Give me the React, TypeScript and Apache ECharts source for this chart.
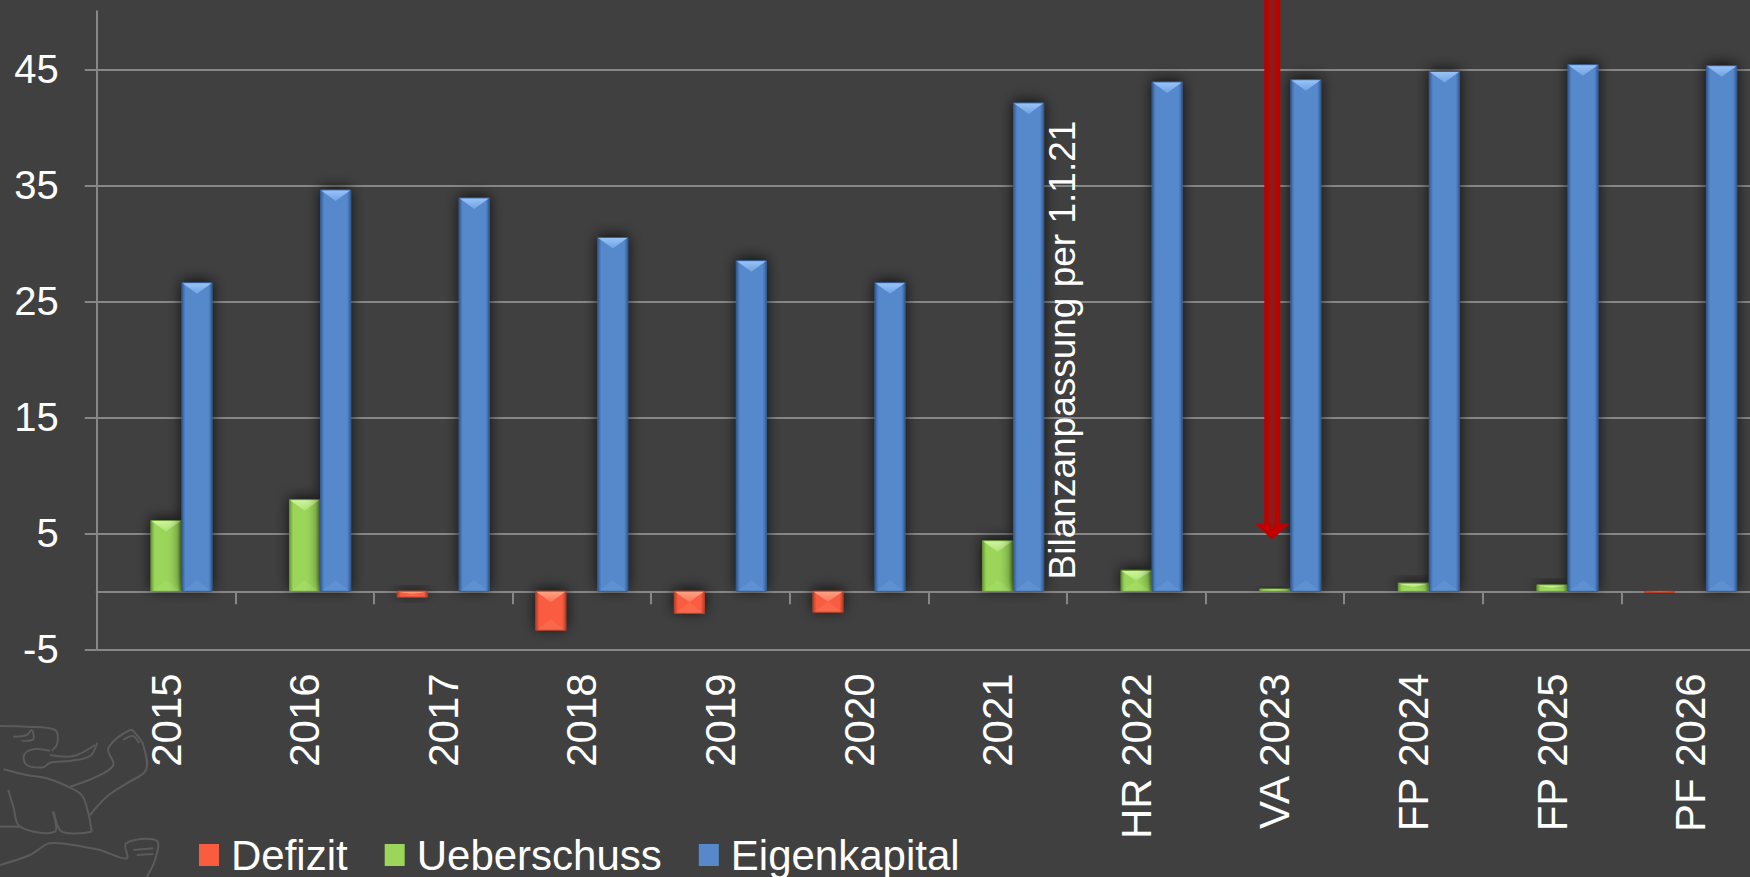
import React, { useEffect, useRef } from 'react';
import * as echarts from 'echarts';

const categories = ['2015', '2016', '2017', '2018', '2019', '2020', '2021', 'HR 2022', 'VA 2023', 'FP 2024', 'FP 2025', 'PF 2026'];
const defizit: (number | null)[] = [null, null, -0.5, -3.35, -1.9, -1.8, null, null, null, null, null, -0.1];
const ueberschuss: (number | null)[] = [6.1, 7.9, null, null, null, null, 4.35, 1.8, 0.2, 0.7, 0.55, null];
const eigenkapital: (number | null)[] = [26.6, 34.6, 33.9, 30.5, 28.5, 26.6, 42.1, 43.9, 44.1, 44.8, 45.4, 45.3];
const yTicks = [-5, 5, 15, 25, 35, 45];
const seriesNames = ['Defizit', 'Ueberschuss', 'Eigenkapital'];
const annotation = 'Bilanzanpassung per 1.1.21';

const FONT = '"Liberation Sans", Arial, sans-serif';
const GRID_COLOR = '#878787';

const palettes = [
  { face: '#f95c3f', edge: '#b9412b', light: '#ffa184', mid: '#fb7556', bottom: 'rgba(255,140,110,0.25)' },
  { face: '#9bd65a', edge: '#6c9a38', light: '#cff59e', mid: '#aee373', bottom: 'rgba(190,240,140,0.2)' },
  { face: '#5689cc', edge: '#355e98', light: '#98c3f6', mid: '#70a2e3', bottom: 'rgba(130,175,235,0.2)' },
];

function toData(arr: (number | null)[]) {
  const out: number[][] = [];
  arr.forEach((v, i) => {
    if (v !== null) out.push([i, v]);
  });
  return out;
}

function makeRender(slot: number) {
  const pal = palettes[slot];
  return (params: any, api: any) => {
    const ci = api.value(0);
    const v = api.value(1);
    const catW = api.size([1, 0])[0];
    const bw = catW * (30 / 138.6);
    const step = catW * (31 / 138.6);
    const p0 = api.coord([ci, 0]);
    const p1 = api.coord([ci, v]);
    const x = p0[0] + (slot - 1) * step - bw / 2;
    const yTop = Math.min(p0[1], p1[1]);
    const h = Math.max(Math.abs(p1[1] - p0[1]), 1.2);
    const d = Math.min(11, h / 2);
    const faceFill = new echarts.graphic.LinearGradient(0, 0, 1, 0, [
      { offset: 0, color: pal.edge },
      { offset: 0.12, color: pal.face },
      { offset: 0.88, color: pal.face },
      { offset: 1, color: pal.edge },
    ]);
    const topFill = new echarts.graphic.LinearGradient(0, 0, 0, 1, [
      { offset: 0, color: pal.light },
      { offset: 1, color: pal.mid },
    ]);
    return {
      type: 'group',
      children: [
        {
          type: 'rect',
          shape: { x, y: yTop, width: bw, height: h },
          style: {
            fill: faceFill,
            stroke: pal.edge,
            lineWidth: 1,
            shadowBlur: 14,
            shadowOffsetY: -2,
            shadowColor: 'rgba(0,0,0,0.75)',
          },
        },
        {
          type: 'polygon',
          shape: { points: [[x + 0.5, yTop + 0.5], [x + bw - 0.5, yTop + 0.5], [x + bw / 2, yTop + d]] },
          style: { fill: topFill },
        },
        {
          type: 'polygon',
          shape: { points: [[x + 1, yTop + h - 0.5], [x + bw - 1, yTop + h - 0.5], [x + bw / 2, yTop + h - d]] },
          style: { fill: pal.bottom },
        },
      ],
    };
  };
}

const logoStrokes: number[][][] = [
  [[0, 726], [27, 726.7], [55, 730], [57.3, 743.3], [51.7, 750.7]],
  [[13.3, 736.7], [26.7, 735], [31.7, 730], [33.3, 739.3], [21.7, 740.7]],
  [[50, 750.7], [33.3, 749.3], [24, 755], [26.7, 765], [43.3, 767.3], [50, 762.7], [71.7, 760.7], [90, 756], [97.3, 742.7]],
  [[50, 755], [73.3, 756], [95, 745]],
  [[3.3, 769.3], [26.7, 775], [46.7, 778.3], [66.7, 786], [81.7, 795], [88.3, 813.3], [91.7, 831.7]],
  [[70, 786.7], [96.7, 776.7], [113.3, 765], [108.3, 748.3], [130, 730], [136.7, 735], [143.3, 745], [146, 770], [126.7, 783.3], [106.7, 796.7], [90, 815]],
  [[123, 740], [133, 736], [139, 743]],
  [[91.7, 831.7], [61.7, 831.7], [53.3, 811.7], [55, 831.7], [20, 826.7], [13.3, 806.7], [8.3, 790]],
  [[0, 826.7], [20, 826.7]],
  [[0, 865], [30, 855], [50, 843.3], [83.3, 846.7], [100, 850], [126.7, 858.3], [126, 843.3], [156.7, 840.7], [155, 860], [146.7, 876.7]],
  [[133.3, 850], [153.3, 848.3]],
  [[136.7, 855], [153.3, 854]],
];

export default function App() {
  const ref = useRef<HTMLDivElement>(null);
  useEffect(() => {
    if (!ref.current) return;
    const chart = echarts.init(ref.current, undefined, { renderer: 'svg' });
    const option: any = {
      animation: false,
      backgroundColor: '#404040',
      textStyle: { fontFamily: FONT },
      grid: {
        left: 96.7,
        top: 11.3,
        width: 1663.2,
        height: 638,
        containLabel: false,
        outerBoundsMode: 'none',
      },
      legend: {
        data: seriesNames,
        left: 199,
        top: 834,
        padding: 0,
        orient: 'horizontal',
        icon: 'rect',
        itemWidth: 20,
        itemHeight: 22,
        itemGap: 37,
        selectedMode: false,
        textStyle: { color: '#ffffff', fontSize: 42, fontFamily: FONT, lineHeight: 42, padding: [0, 0, 0, 7] },
      },
      xAxis: {
        type: 'category',
        data: categories,
        boundaryGap: true,
        axisLine: { show: true, onZero: true, lineStyle: { color: GRID_COLOR, width: 2 } },
        axisTick: { show: true, length: 13, interval: 0, lineStyle: { color: GRID_COLOR, width: 2 } },
        axisLabel: { rotate: 90, margin: 24, interval: 0, color: '#ffffff', fontSize: 42, fontFamily: FONT },
        splitLine: { show: false },
      },
      yAxis: {
        type: 'value',
        min: -5,
        max: 50,
        axisLine: { show: true, lineStyle: { color: GRID_COLOR, width: 2 } },
        axisTick: { show: true, length: 12, customValues: yTicks, lineStyle: { color: GRID_COLOR, width: 2 } },
        axisLabel: { customValues: yTicks, margin: 38, color: '#ffffff', fontSize: 40, fontFamily: FONT },
        splitLine: { show: true, lineStyle: { color: GRID_COLOR, width: 2 } },
      },
      series: [defizit, ueberschuss, eigenkapital].map((arr, slot) => ({
        type: 'custom',
        name: seriesNames[slot],
        renderItem: makeRender(slot),
        encode: { x: 0, y: 1 },
        data: toData(arr),
        itemStyle: { color: palettes[slot].face },
        clip: true,
        z: 3,
      })),
    };
    chart.setOption(option);

    const arrowTip = chart.convertToPixel({ gridIndex: 0 }, [8, 4.45]) as number[];
    const textPos = chart.convertToPixel({ gridIndex: 0 }, [6, 20.8]) as number[];
    const catW = (chart.convertToPixel({ gridIndex: 0 }, [1, 0]) as number[])[0] - (chart.convertToPixel({ gridIndex: 0 }, [0, 0]) as number[])[0];
    const ax = arrowTip[0] - 2.5;
    const headTop = arrowTip[1] - 16;

    chart.setOption({
      graphic: [
        ...logoStrokes.map((pts) => ({
          type: 'polyline',
          shape: { points: pts, smooth: 0.35 },
          style: { stroke: '#5b5b5b', lineWidth: 2, fill: null },
          z: 0,
          silent: true,
        })),
        {
          type: 'text',
          x: textPos[0] + catW * 0.465,
          y: textPos[1],
          rotation: Math.PI / 2,
          style: {
            text: annotation,
            fill: '#ffffff',
            fontSize: 37,
            fontFamily: FONT,
            align: 'center',
            verticalAlign: 'middle',
          },
          z: 10,
        },
        {
          type: 'rect',
          shape: { x: ax - 8, y: 0, width: 16, height: headTop },
          style: { fill: '#c00000' },
          z: 10,
        },
        {
          type: 'rect',
          shape: { x: ax - 3.5, y: 0, width: 7, height: headTop },
          style: { fill: '#8e1a1a' },
          z: 11,
        },
        {
          type: 'polygon',
          shape: { points: [[ax - 17, headTop], [ax + 17, headTop], [ax, arrowTip[1]]] },
          style: { fill: '#c00000' },
          z: 10,
        },
        {
          type: 'polygon',
          shape: { points: [[ax - 3.5, headTop], [ax + 3.5, headTop], [ax, headTop + 4]] },
          style: { fill: '#8e1a1a' },
          z: 11,
        },
      ],
    });

    return () => {
      chart.dispose();
    };
  }, []);
  return (
    <div
      ref={ref}
      style={{ position: 'fixed', left: 0, top: 0, width: 1750, height: 877, background: '#404040' }}
    />
  );
}
